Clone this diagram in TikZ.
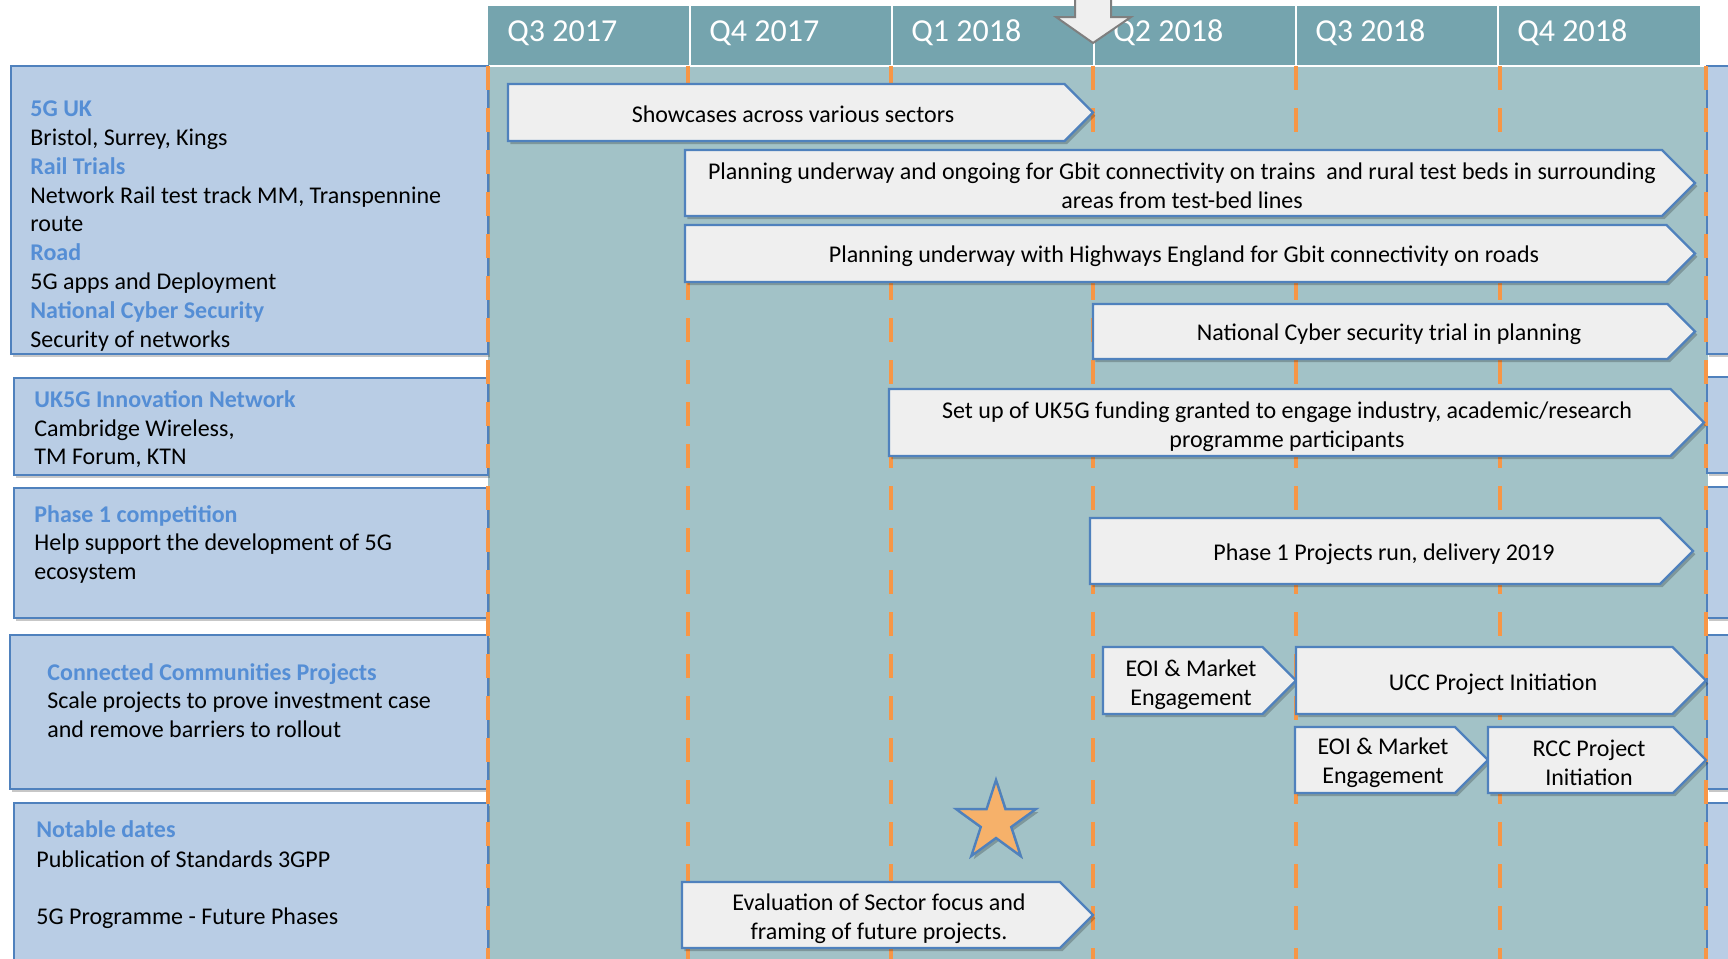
\documentclass[tikz,border=0pt]{standalone}
\usepackage{fontspec}
\setmainfont{Carlito}
\usetikzlibrary{shadows}
\definecolor{hdr}{HTML}{75A4AE}
\definecolor{bodyc}{HTML}{A2C2C7}
\definecolor{boxfill}{HTML}{B9CDE5}
\definecolor{boxline}{HTML}{4F81BD}
\definecolor{headtxt}{HTML}{558ED5}
\definecolor{arrfill}{HTML}{EFEFEF}
\definecolor{orangedash}{HTML}{F79646}
\definecolor{starfill}{HTML}{F6B16A}
\definecolor{grayline}{HTML}{7F7F7F}
\newcommand\pentarrow[8]{%
  \draw[abox] (#2,#3) -- ({#4-(#5-#3)/2},#3) -- (#4,{(#3+#5)/2}) -- ({#4-(#5-#3)/2},#5) -- (#2,#5) -- cycle;
  \node[txt, align=center] (#1) at (#6,#7) {#8};
}
\begin{document}
\begin{tikzpicture}[x=0.5pt,y=-0.5pt,
  txt/.style={font=\fontsize{12}{14.4}\selectfont, inner sep=0pt, text=black},
  ltxt/.style={txt, anchor=base west},
  lhd/.style={ltxt, font=\fontsize{12}{14.4}\selectfont\bfseries, text=headtxt},
  lbox/.style={fill=boxfill, draw=boxline, line width=1.1pt,
    drop shadow={shadow xshift=1.2pt, shadow yshift=-1.6pt, opacity=0.22, fill=black}},
  abox/.style={fill=arrfill, draw=boxline, line width=1.2pt, line join=miter,
    drop shadow={shadow xshift=1.2pt, shadow yshift=-1.6pt, opacity=0.22, fill=black}},
  qlab/.style={font=\fontsize{16}{19}\selectfont, text=white, inner sep=0pt, anchor=base west},
  dashln/.style={draw=orangedash, line width=2pt, dash pattern=on 12pt off 9pt},
]
\useasboundingbox (0,0) rectangle (1728,958);
\clip (0,0) rectangle (1728,958);
\fill[white] (0,0) rectangle (1728,958);

% timeline body
\fill[bodyc] (488,67) rectangle (1708,970);

% header
\foreach \i/\lab in {0/Q3 2017,1/Q4 2017,2/Q1 2018,3/Q2 2018,4/Q3 2018,5/Q4 2018}{
  \fill[hdr] ({488+202*\i},5.5) rectangle ({488+202*(\i+1)},65);
  \node[qlab] (q\i) at ({507+202*\i},41) {\lab};
}
\foreach \i in {1,...,5}{
  \draw[white, line width=1.2pt] ({488+202*\i},5) -- ({488+202*\i},66);
}

% left boxes
\draw[lbox] (11,66) rectangle (488,354);
\draw[lbox] (14,378) rectangle (488,475);
\draw[lbox] (14,488) rectangle (488,618);
\draw[lbox] (10,635) rectangle (488,789);
\draw[lbox] (14,803) rectangle (488,980);

% right boxes (cut off)
\draw[lbox] (1707,66) rectangle (1770,354);
\draw[lbox] (1707,377) rectangle (1770,473);
\draw[lbox] (1707,487) rectangle (1770,618);
\draw[lbox] (1707,635) rectangle (1770,789);
\draw[lbox] (1707,803) rectangle (1770,980);

% quarter lines
\foreach \x in {488,688,891,1093,1296,1500,1706}{
  \draw[dashln] (\x,66) -- (\x,965);
}

% arrows
\pentarrow{sc}{508}{84}{1093}{141}{793}{114}{Showcases across various sectors}
\pentarrow{pt}{685}{150}{1695}{216}{1182}{185.5}{Planning underway and ongoing for Gbit connectivity on trains \ and rural test beds in surrounding\\areas from test-bed lines}
\pentarrow{hw}{685}{225}{1695}{282}{1184}{256}{Planning underway with Highways England for Gbit connectivity on roads}
\pentarrow{cy}{1093}{304}{1695}{359}{1389}{334.5}{National Cyber security trial in planning}
\pentarrow{uk}{889}{389}{1704}{456}{1287}{427}{Set up of UK5G funding granted to engage industry, academic/research\\programme participants}
\pentarrow{ph}{1090}{518}{1693}{584}{1384}{554.5}{Phase 1 Projects run, delivery 2019}
\pentarrow{ea}{1103}{647}{1296}{714}{1191}{685}{EOI \& Market\\Engagement}
\pentarrow{ucc}{1296}{647}{1706}{714}{1493}{684}{UCC Project Initiation}
\pentarrow{eb}{1295}{727}{1488}{793}{1383}{763}{EOI \& Market\\Engagement}
\pentarrow{rcc}{1488}{727}{1706}{793}{1589}{762.5}{RCC Project\\Initiation}
\pentarrow{ev}{682}{882}{1093}{948}{879}{919}{Evaluation of Sector focus and\\framing of future projects.}

% star
\draw[fill=starfill, draw=boxline, line width=1.2pt, line join=miter,
  drop shadow={shadow xshift=1.2pt, shadow yshift=-1.6pt, opacity=0.22, fill=black}]
  (996,822) +(-90:42) -- +(-54:16) -- +(-18:42) -- +(18:16) -- +(54:42) -- +(90:16)
  -- +(126:42) -- +(162:16) -- +(198:42) -- +(234:16) -- cycle;

% down arrow at top
\draw[fill=arrfill, draw=grayline, line width=1pt, line join=miter]
  (1075,-5) -- (1111,-5) -- (1111,17) -- (1131,17) -- (1093,43) -- (1056,17) -- (1075,17) -- cycle;

% left texts
\node[lhd]  (t1a) at (30,116.5) {5G UK};
\node[ltxt] (t1b) at (30,145.4) {Bristol, Surrey, Kings};
\node[lhd]  (t1c) at (30,174.2) {Rail Trials};
\node[ltxt] (t1d) at (30,203.1) {Network Rail test track MM, Transpennine};
\node[ltxt] (t1e) at (30,231.9) {route};
\node[lhd]  (t1f) at (30,260.8) {Road};
\node[ltxt] (t1g) at (30,289.6) {5G apps and Deployment};
\node[lhd]  (t1h) at (30,318.5) {National Cyber Security};
\node[ltxt] (t1i) at (30,347.3) {Security of networks};

\node[lhd]  (t2a) at (34,407) {UK5G Innovation Network};
\node[ltxt] (t2b) at (34,436) {Cambridge Wireless,};
\node[ltxt] (t2c) at (34,464) {TM Forum, KTN};

\node[lhd]  (t3a) at (34,522) {Phase 1 competition};
\node[ltxt] (t3b) at (34,550) {Help support the development of 5G};
\node[ltxt] (t3c) at (34,579) {ecosystem};

\node[lhd]  (t4a) at (47,680) {Connected Communities Projects};
\node[ltxt] (t4b) at (47,708) {Scale projects to prove investment case};
\node[ltxt] (t4c) at (47,737) {and remove barriers to rollout};

\node[lhd]  (t5a) at (36,837) {Notable dates};
\node[ltxt] (t5b) at (36,867) {Publication of Standards 3GPP};
\node[ltxt] (t5c) at (36,924) {5G Programme - Future Phases};
\end{tikzpicture}
\end{document}
